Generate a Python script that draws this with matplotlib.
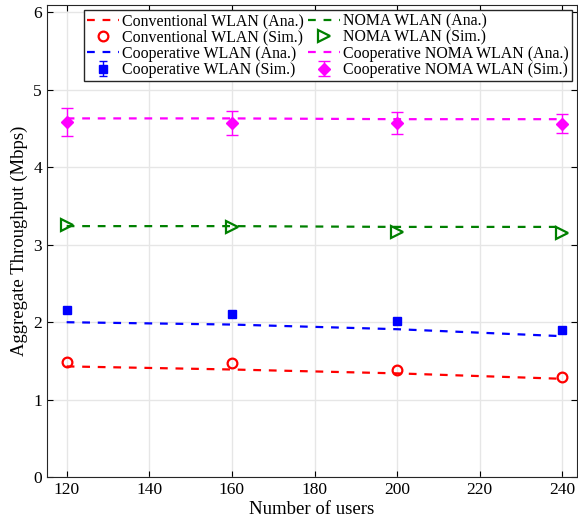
import matplotlib
matplotlib.use("Agg")
import matplotlib.pyplot as plt

plt.rcParams['font.family'] = ['Liberation Serif', 'DejaVu Serif']
plt.rcParams['mathtext.fontset'] = 'stix'

users = [120, 160, 200, 240]

conv_ana = [1.43, 1.39, 1.34, 1.27]
conv_sim = [1.49, 1.48, 1.38, 1.29]
coop_ana = [2.00, 1.97, 1.91, 1.82]
coop_sim = [2.16, 2.10, 2.02, 1.90]
coop_err = [0.02, 0.02, 0.02, 0.02]
noma_ana = [3.24, 3.24, 3.23, 3.23]
noma_sim = [3.25, 3.23, 3.16, 3.15]
cnoma_ana = [4.63, 4.63, 4.62, 4.62]
cnoma_sim = [4.58, 4.57, 4.57, 4.56]
cnoma_lo = [4.40, 4.42, 4.43, 4.44]
cnoma_hi = [4.76, 4.73, 4.71, 4.69]

fig = plt.figure(figsize=(5.78, 5.25), dpi=100)
ax = fig.add_axes([0.081, 0.091, 0.917, 0.899])

dash = (0, (3.5, 3.5))
h1, = ax.plot(users, conv_ana, color='red', linestyle=dash, linewidth=1.6)
h2, = ax.plot(users, conv_sim, linestyle='none', marker='o', markersize=7,
              markerfacecolor='none', markeredgecolor='red', markeredgewidth=1.6)
h3, = ax.plot(users, coop_ana, color='blue', linestyle=dash, linewidth=1.6)
h4 = ax.errorbar(users, coop_sim, yerr=coop_err, fmt='s', color='blue',
                 markersize=6, capsize=3, elinewidth=1.0)
h5, = ax.plot(users, noma_ana, color='green', linestyle=dash, linewidth=1.6)
h6, = ax.plot(users, noma_sim, linestyle='none', marker='>', markersize=8,
              markerfacecolor='none', markeredgecolor='green', markeredgewidth=1.6)
h7, = ax.plot(users, cnoma_ana, color='magenta', linestyle=dash, linewidth=1.6)
err_lo = [m - l for m, l in zip(cnoma_sim, cnoma_lo)]
err_hi = [h - m for m, h in zip(cnoma_sim, cnoma_hi)]
h8 = ax.errorbar(users, cnoma_sim, yerr=[err_lo, err_hi], fmt='D', color='magenta',
                 markersize=6, capsize=4, elinewidth=1.0)

ax.set_xlim(115.2, 243.5)
ax.set_ylim(0, 6.09)
ax.set_xticks([120, 140, 160, 180, 200, 220, 240])
ax.set_yticks([0, 1, 2, 3, 4, 5, 6])
ax.grid(True, color='#e6e6e6', linewidth=1)
ax.set_axisbelow(True)
ax.tick_params(direction='in', top=True, right=True, labelsize=12.5, length=4)
for s in ax.spines.values():
    s.set_color('#262626')
ax.set_xlabel('Number of users', fontsize=13.5, labelpad=2)
ax.set_ylabel('Aggregate Throughput (Mbps)', fontsize=13.5, labelpad=4)

leg = ax.legend([h1, h2, h3, h4, h5, h6, h7, h8],
                ['Conventional WLAN (Ana.)', 'Conventional WLAN (Sim.)',
                 'Cooperative WLAN (Ana.)', 'Cooperative WLAN (Sim.)',
                 'NOMA WLAN (Ana.)', 'NOMA WLAN (Sim.)',
                 'Cooperative NOMA WLAN (Ana.)', 'Cooperative NOMA WLAN (Sim.)'],
                ncol=2, loc='upper right', fontsize=11.4, fancybox=False,
                edgecolor='#262626', framealpha=1, handlelength=2.0,
                handletextpad=0.2, columnspacing=0.3, labelspacing=0.02,
                borderpad=0.2, borderaxespad=0.3)
leg.get_frame().set_linewidth(1.0)

fig.savefig('out.png', dpi=100)
